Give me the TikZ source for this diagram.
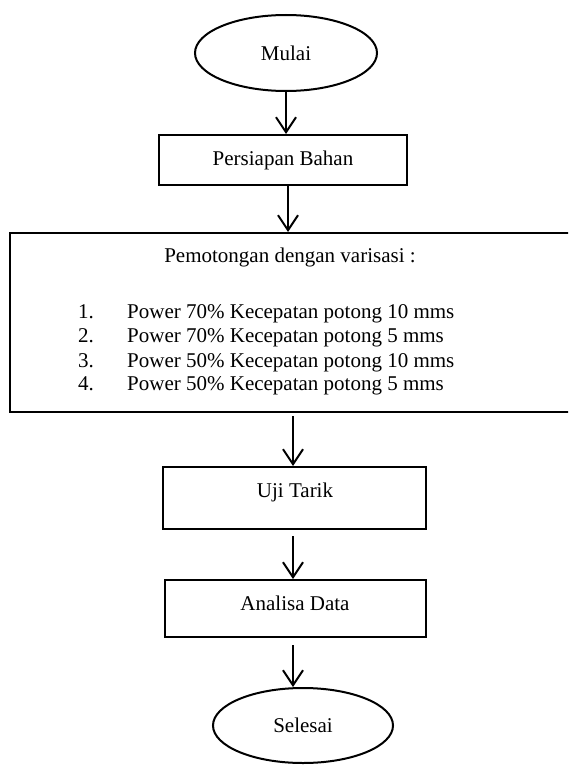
\documentclass[tikz,border=0pt]{standalone}
\usepackage{fontspec}
\setmainfont{Liberation Serif}
\usetikzlibrary{shapes.geometric,arrows.meta}
\begin{document}
\begin{tikzpicture}[x=1pt,y=-1pt,
  every node/.style={font=\fontsize{21}{24}\selectfont},
  procbox/.style={draw=black,line width=2pt,rectangle,inner sep=0pt},
  termin/.style={draw=black,line width=2pt,ellipse,inner sep=0pt},
  arr/.style={line width=2pt,-{Straight Barb[length=15pt,width=20pt,line width=2pt]}},
  txt/.style={inner sep=0pt,anchor=base west}]
\useasboundingbox (0,0) rectangle (568,765);
\clip (0,0) rectangle (568,765);
\node[termin,minimum width=182pt,minimum height=76pt] (mulai) at (286,53) {Mulai};
\node[procbox,minimum width=248pt,minimum height=50pt] (persiapan) at (283,160) {Persiapan Bahan};
\node[procbox,minimum width=564pt,minimum height=179pt] (big) at (292,322.5) {};
\node[inner sep=0pt,anchor=base] (title) at (290,262) {Pemotongan dengan varisasi :};
\node[txt] (n1) at (78,318) {1.};
\node[txt] (n2) at (78,342) {2.};
\node[txt] (n3) at (78,367) {3.};
\node[txt] (n4) at (78,390) {4.};
\node[txt] (t1) at (127,318) {Power 70\% Kecepatan potong 10 mms};
\node[txt] (t2) at (127,342) {Power 70\% Kecepatan potong 5 mms};
\node[txt] (t3) at (127,367) {Power 50\% Kecepatan potong 10 mms};
\node[txt] (t4) at (127,390) {Power 50\% Kecepatan potong 5 mms};
\node[procbox,minimum width=263pt,minimum height=62pt] (uji) at (294.5,498) {};
\node[inner sep=0pt] (ujit) at (295,492) {Uji Tarik};
\node[procbox,minimum width=261pt,minimum height=57pt] (analisa) at (295.5,608.5) {};
\node[inner sep=0pt] (analisat) at (295,603) {Analisa Data};
\node[termin,minimum width=180pt,minimum height=75pt] (selesai) at (303,725.5) {Selesai};
\coordinate (a1) at (286,0);
\coordinate (a2) at (288,0);
\coordinate (a3) at (293,0);
\draw[arr] (mulai.south -| a1) -- (persiapan.north -| a1);
\draw[arr] (persiapan.south -| a2) -- (big.north -| a2);
\draw[arr] ([yshift=-3pt]big.south -| a3) -- (uji.north -| a3);
\draw[arr] ([yshift=-6pt]uji.south -| a3) -- (analisa.north -| a3);
\draw[arr] ([yshift=-7pt]analisa.south -| a3) -- (selesai.north -| a3);
\end{tikzpicture}
\end{document}
